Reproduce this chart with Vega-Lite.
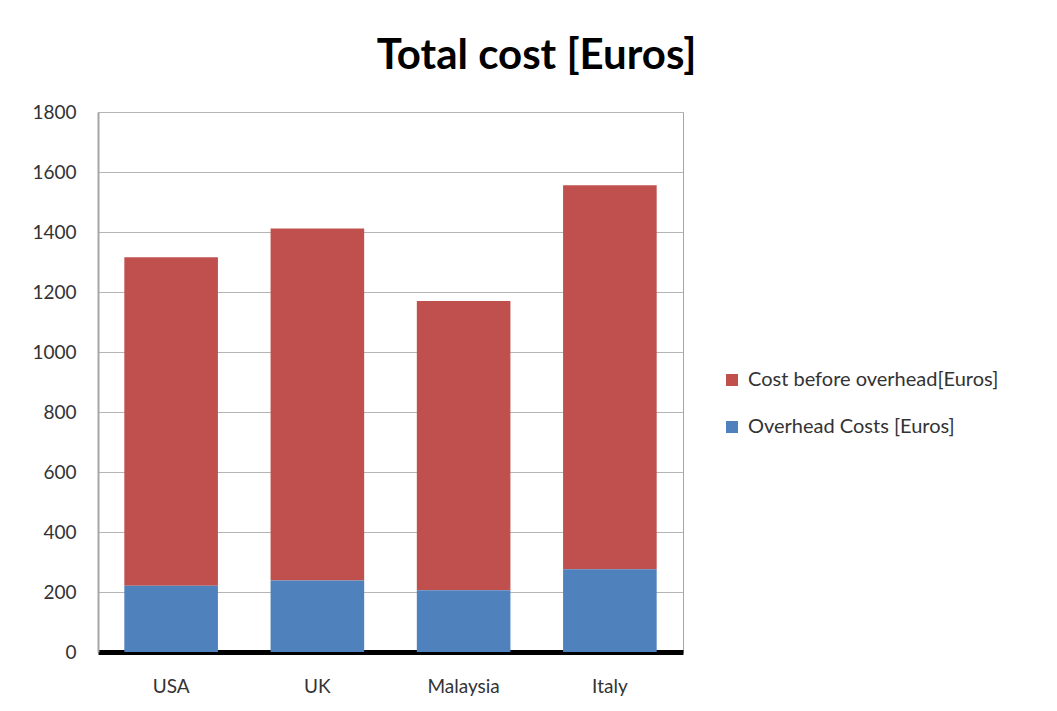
{
  "$schema": "https://vega.github.io/schema/vega-lite/v6.json",
  "autosize": "none",
  "width": 585,
  "height": 540,
  "padding": {"left": 98, "top": 112, "right": 374, "bottom": 59},
  "background": "white",
  "title": {
    "text": "Total cost [Euros]",
    "font": "Lato",
    "fontSize": 42,
    "fontWeight": "bold",
    "color": "#000000",
    "anchor": "middle",
    "dx": 146,
    "offset": 25
  },
  "data": {
    "values": [
      {"country": "USA", "series": "Cost before overhead[Euros]", "value": 1095},
      {"country": "USA", "series": "Overhead Costs [Euros]", "value": 221},
      {"country": "UK", "series": "Cost before overhead[Euros]", "value": 1174},
      {"country": "UK", "series": "Overhead Costs [Euros]", "value": 238},
      {"country": "Malaysia", "series": "Cost before overhead[Euros]", "value": 964},
      {"country": "Malaysia", "series": "Overhead Costs [Euros]", "value": 206},
      {"country": "Italy", "series": "Cost before overhead[Euros]", "value": 1280},
      {"country": "Italy", "series": "Overhead Costs [Euros]", "value": 276}
    ]
  },
  "mark": {"type": "bar"},
  "encoding": {
    "x": {
      "field": "country",
      "type": "nominal",
      "sort": ["USA", "UK", "Malaysia", "Italy"],
      "scale": {"paddingInner": 0.36, "paddingOuter": 0.18},
      "axis": {
        "title": null,
        "labelAngle": 0,
        "labelFont": "Lato",
        "labelFontSize": 19,
        "labelColor": "#333333",
        "labelPadding": 25,
        "ticks": false,
        "domainColor": "#000000",
        "domainWidth": 5,
        "grid": false
      }
    },
    "y": {
      "field": "value",
      "type": "quantitative",
      "aggregate": "sum",
      "stack": "zero",
      "scale": {"domain": [0, 1800], "nice": false},
      "axis": {
        "title": null,
        "format": "d",
        "values": [0, 200, 400, 600, 800, 1000, 1200, 1400, 1600, 1800],
        "labelFont": "Lato",
        "labelFontSize": 19,
        "labelColor": "#333333",
        "labelPadding": 22,
        "ticks": false,
        "domainColor": "#a6a6a6",
        "domainWidth": 2,
        "gridColor": "#b5b5b5",
        "gridWidth": 1
      }
    },
    "color": {
      "field": "series",
      "type": "nominal",
      "scale": {
        "domain": ["Cost before overhead[Euros]", "Overhead Costs [Euros]"],
        "range": ["#C0504D", "#4F81BD"]
      },
      "legend": {
        "title": null,
        "orient": "none",
        "legendX": 624,
        "legendY": 258,
        "symbolType": "square",
        "symbolSize": 144,
        "symbolStrokeWidth": 0,
        "labelFont": "Lato",
        "labelFontSize": 20,
        "labelColor": "#333333",
        "labelLimit": 0,
        "rowPadding": 27,
        "labelOffset": 6
      }
    },
    "order": {"field": "series", "sort": "descending"}
  },
  "config": {
    "view": {"stroke": "#a6a6a6", "strokeWidth": 1}
  }
}
